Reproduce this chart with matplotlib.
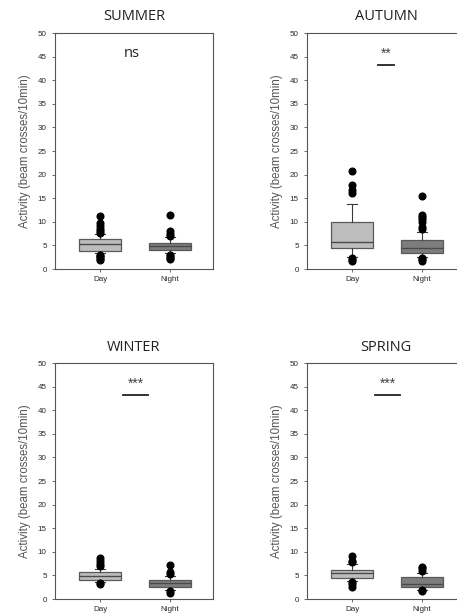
import matplotlib
matplotlib.use("Agg")
import matplotlib.pyplot as plt

plt.rcParams["font.family"] = ["Liberation Sans", "DejaVu Sans"]

# season titles and significance labels
seasons = ["SUMMER", "AUTUMN", "WINTER", "SPRING"]
signif = ["ns", "**", "***", "***"]
groups = ["Day", "Night"]

# box stats: (whislo, q1, med, q3, whishi) per season, day then night
day_stats = [
    (3.3, 3.9, 5.2, 6.3, 7.4),
    (2.6, 4.4, 5.7, 9.9, 13.7),
    (3.5, 4.1, 4.8, 5.7, 6.4),
    (3.9, 4.5, 5.5, 6.2, 7.5),
]
night_stats = [
    (3.4, 4.1, 4.9, 5.6, 6.8),
    (2.6, 3.4, 4.5, 6.1, 7.8),
    (1.9, 2.6, 3.3, 4.0, 4.8),
    (2.0, 2.5, 3.2, 4.6, 5.6),
]
day_fliers = [
    [1.9, 2.2, 2.5, 2.8, 3.0, 7.7, 8.0, 8.5, 9.2, 9.7, 11.3],
    [1.6, 2.0, 2.3, 16.2, 16.8, 17.8, 20.7],
    [3.1, 3.3, 7.0, 7.4, 8.0, 8.6],
    [2.6, 3.1, 3.5, 7.8, 8.1, 9.2],
]
night_fliers = [
    [2.1, 2.4, 2.7, 3.0, 7.0, 7.5, 8.0, 11.5],
    [1.8, 2.1, 2.4, 8.5, 9.0, 10.0, 10.5, 11.0, 11.4, 15.4],
    [1.3, 1.6, 5.3, 5.7, 7.2],
    [1.6, 1.9, 6.0, 6.5, 6.8],
]

W, H = 457, 615
fig = plt.figure(figsize=(W / 100, H / 100), dpi=100)

# axes boxes in pixels: left, top
boxes_px = [(55, 33), (307, 33), (55, 363), (307, 363)]
aw, ah = 158, 236

def stat(vals, flier, label):
    lo, q1, med, q3, hi = vals
    return dict(whislo=lo, q1=q1, med=med, q3=q3, whishi=hi, fliers=flier, label=label)

for i, (x0, y0) in enumerate(boxes_px):
    ax = fig.add_axes([x0 / W, 1 - (y0 + ah) / H, aw / W, ah / H])
    bstats = [stat(day_stats[i], day_fliers[i], groups[0]),
              stat(night_stats[i], night_fliers[i], groups[1])]
    bp = ax.bxp(bstats, positions=[1, 2], widths=0.61, patch_artist=True,
                capwidths=0.15,
                boxprops=dict(edgecolor="#5a5a5a", linewidth=0.9),
                medianprops=dict(color="#4a4a4a", linewidth=1.0),
                whiskerprops=dict(color="#3a3a3a", linewidth=0.8),
                capprops=dict(color="#3a3a3a", linewidth=0.8),
                flierprops=dict(marker="o", markerfacecolor="black",
                                markeredgecolor="black", markersize=4.8))
    bp["boxes"][0].set_facecolor("#bdbdbd")
    bp["boxes"][1].set_facecolor("#7d7d7d")

    ax.set_xlim(0.356, 2.616)
    ax.set_ylim(0, 50)
    ax.set_yticks(range(0, 51, 5))
    ax.tick_params(axis="both", labelsize=5.8, colors="#555555", length=2.5,
                   width=0.6, labelcolor="#2a2a2a")
    ax.tick_params(axis="x", pad=2.5)
    for s in ax.spines.values():
        s.set_color("#555555")
        s.set_linewidth(0.8)
    if i % 2 == 1:
        ax.spines["right"].set_visible(False)
    ax.set_ylabel("Activity (beam crosses/10min)", fontsize=8.3,
                  color="#555555", labelpad=5)

    ax.text(0.5, 1 + 16 / ah, seasons[i], transform=ax.transAxes,
            ha="center", va="center", fontsize=10.5, family="Open Sans",
            color="#222222")

    if signif[i] == "ns":
        ax.text(1.46, 45.6, "ns", ha="center", va="center", fontsize=10.5,
                family="Open Sans", color="#222222")
    else:
        x1, x2 = (1.37, 1.60) if i == 1 else (1.33, 1.69)
        ax.plot([x1, x2], [43.2, 43.2], color="#222222", linewidth=1.3)
        ax.text((x1 + x2) / 2, 45.5, signif[i], ha="center", va="center",
                fontsize=10, color="#444444")

fig.savefig("out.png", dpi=100)
